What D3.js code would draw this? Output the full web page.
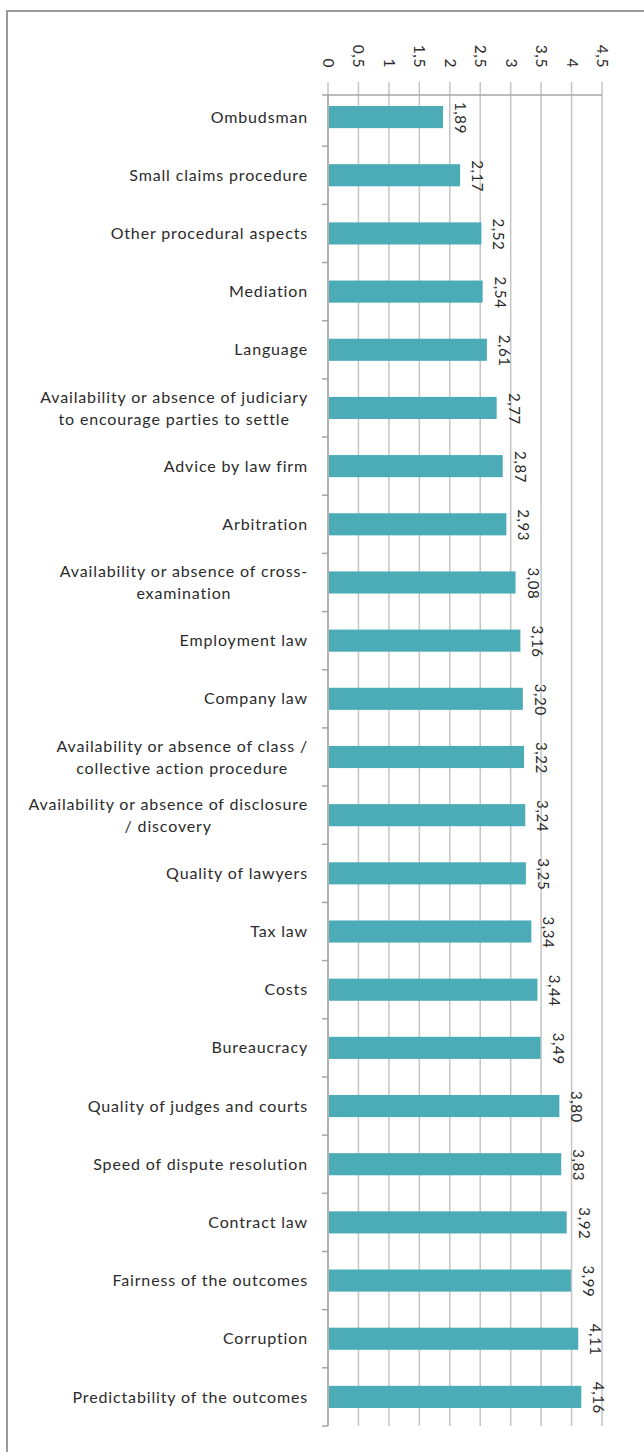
<!DOCTYPE html>
<html>
<head>
<meta charset="utf-8">
<script src="https://cdn.jsdelivr.net/npm/d3@7"></script>
<style>
  html, body { margin: 0; padding: 0; background: #fff; }
  svg { display: block; }
  text { font-family: Lato, "Open Sans", sans-serif; fill: #2b2b2b; }
</style>
</head>
<body>
<svg id="chart" width="644" height="1452"></svg>
<script>
const categories = [
  "Ombudsman",
  "Small claims procedure",
  "Other procedural aspects",
  "Mediation",
  "Language",
  "Availability or absence of judiciary\nto encourage parties to settle",
  "Advice by law firm",
  "Arbitration",
  "Availability or absence of cross-\nexamination",
  "Employment law",
  "Company law",
  "Availability or absence of class /\ncollective action procedure",
  "Availability or absence of disclosure\n/ discovery",
  "Quality of lawyers",
  "Tax law",
  "Costs",
  "Bureaucracy",
  "Quality of judges and courts",
  "Speed of dispute resolution",
  "Contract law",
  "Fairness of the outcomes",
  "Corruption",
  "Predictability of the outcomes"
];
const values = [1.89, 2.17, 2.52, 2.54, 2.61, 2.77, 2.87, 2.93, 3.08, 3.16, 3.20, 3.22, 3.24, 3.25, 3.34, 3.44, 3.49, 3.80, 3.83, 3.92, 3.99, 4.11, 4.16];
const tickValues = [0, 0.5, 1, 1.5, 2, 2.5, 3, 3.5, 4, 4.5];
const tickLabels = ["0", "0,5", "1", "1,5", "2", "2,5", "3", "3,5", "4", "4,5"];

const svg = d3.select("#chart");
const barColor = "#4bacb8";

// frame
svg.append("rect")
  .attr("x", 7).attr("y", 11).attr("width", 700).attr("height", 1500)
  .attr("fill", "none").attr("stroke", "#9a9a9a").attr("stroke-width", 2);

const x = d3.scaleLinear().domain([0, 4.5]).range([328, 602]);
const y = d3.scaleBand().domain(categories).range([88, 1426]).paddingInner(0.62).paddingOuter(0.31);
const axisY = 95, bottomY = 1426;

// gridlines
svg.append("g").selectAll("line").data(tickValues).join("line")
  .attr("x1", d => x(d)).attr("x2", d => x(d))
  .attr("y1", axisY - 13).attr("y2", bottomY)
  .attr("stroke", "#c4c4c4").attr("stroke-width", 1.5);

// top axis
const xAxis = d3.axisTop(x).tickValues(tickValues).tickSize(0).tickFormat((d, i) => tickLabels[i]);
const gx = svg.append("g").attr("transform", `translate(0,${axisY})`).call(xAxis);
gx.select(".domain").remove();
svg.append("line").attr("x1", 322).attr("x2", x(4.5)).attr("y1", axisY).attr("y2", axisY)
  .attr("stroke", "#a6a6a6").attr("stroke-width", 1.5);
gx.selectAll(".tick text")
  .attr("transform", "rotate(90)")
  .attr("x", -27).attr("y", 5.5)
  .attr("dy", 0)
  .attr("text-anchor", "end")
  .style("font-family", "Lato, sans-serif")
  .style("font-size", "15.5px")
  .style("letter-spacing", "0.6px")
  .attr("fill", "#2b2b2b");

// left axis line with ticks at band boundaries
svg.append("line").attr("x1", 328).attr("x2", 328).attr("y1", axisY).attr("y2", bottomY)
  .attr("stroke", "#a6a6a6").attr("stroke-width", 1.5);
const step = y.step();
const boundaries = d3.range(1, categories.length + 1).map(i => 88 + i * step);
svg.append("g").selectAll("line").data(boundaries).join("line")
  .attr("x1", 322).attr("x2", 328).attr("y1", d => d).attr("y2", d => d)
  .attr("stroke", "#a6a6a6").attr("stroke-width", 1.5);

// bars
svg.append("g").selectAll("rect").data(values).join("rect")
  .attr("x", x(0) + 1)
  .attr("y", (d, i) => y(categories[i]))
  .attr("width", d => x(d) - x(0) - 1)
  .attr("height", y.bandwidth())
  .attr("fill", barColor);

// value labels (rotated)
const fmt = d3.format(".2f");
svg.append("g").selectAll("text").data(values).join("text")
  .attr("transform", (d, i) => `translate(${x(d) + 12},${y(categories[i]) - 4}) rotate(90)`)
  .attr("text-anchor", "start")
  .style("font-size", "15px")
  .style("letter-spacing", "0.6px")
  .text(d => fmt(d).replace(".", ","));

// category labels
const labelRight = 308;
const lg = svg.append("g");
categories.forEach((c, i) => {
  const lines = c.split("\n");
  const cy = y(c) + y.bandwidth() / 2;
  const t = lg.append("text").style("font-size", "16px").style("letter-spacing", "0.85px");
  if (lines.length === 1) {
    t.attr("x", labelRight).attr("y", cy).attr("dy", "0.35em").attr("text-anchor", "end").text(c);
  } else {
    const tspans = lines.map((l, k) => t.append("tspan").attr("y", cy + (k - (lines.length - 1) / 2) * 22).attr("dy", "0.35em").text(l));
    const maxW = d3.max(tspans, s => s.node().getComputedTextLength());
    t.attr("text-anchor", "middle");
    tspans.forEach(s => s.attr("x", labelRight - maxW / 2));
  }
});
</script>
</body>
</html>
